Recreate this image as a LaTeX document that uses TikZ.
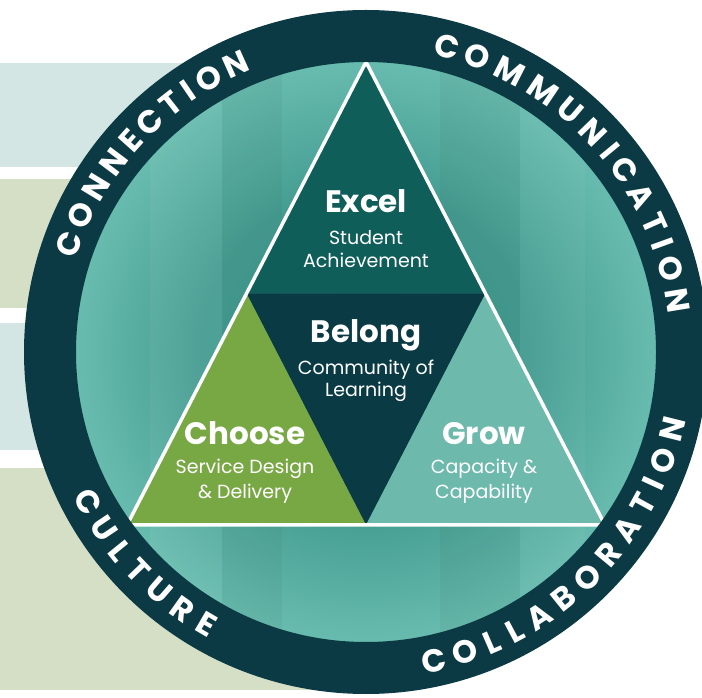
\documentclass[tikz,border=0pt]{standalone}
\usepackage{fontspec}
\setmainfont{Poppins}
\usetikzlibrary{calc}

\definecolor{ringdark}{HTML}{0B3A44}
\definecolor{excelteal}{HTML}{0F5E5A}
\definecolor{belongdark}{HTML}{0A3A44}
\definecolor{choosegreen}{HTML}{78A843}
\definecolor{growteal}{HTML}{6DB9AC}
\definecolor{bandteal}{HTML}{D4E6E3}
\definecolor{bandgreen}{HTML}{D5DFC5}
\definecolor{tealmid}{HTML}{3F978C}
\definecolor{teallight}{HTML}{68BCAF}

\pgfdeclareradialshading{discshade}{\pgfpoint{0bp}{0bp}}{color(0bp)=(tealmid); color(14bp)=(tealmid!85!teallight); color(25bp)=(teallight); color(50bp)=(teallight)}

\tikzset{
  head/.style={font=\fontsize{31}{36}\selectfont\bfseries, text=white, anchor=base, inner sep=0pt},
  sub/.style={font=\fontsize{19}{23}\selectfont, text=white, anchor=base, inner sep=0pt},
  ringtxt/.style={font=\fontsize{32}{36}\selectfont\bfseries, text=white, inner sep=0pt},
}

\begin{document}
\begin{tikzpicture}[x=1pt, y=1pt]
\useasboundingbox (0,0) rectangle (702,697);

% bands behind the disc
\fill[bandteal]  (0,530) rectangle (366,634);
\fill[bandgreen] (0,389) rectangle (366,518);
\fill[bandteal]  (0,247) rectangle (366,374);
\fill[bandgreen] (0,7)   rectangle (366,229);

% disc
\coordinate (ctr) at (366,345);
\shade[shading=discshade] (ctr) circle[radius=292];
\begin{scope}
  \clip (ctr) circle[radius=292];
  \fill[white, opacity=0.05] (150,0) rectangle (222,697);
  \fill[black, opacity=0.035] (222,0) rectangle (282,697);
  \fill[black, opacity=0.035] (440,0) rectangle (520,697);
  \fill[white, opacity=0.04] (520,0) rectangle (585,697);
\end{scope}

% triangle
\coordinate (top) at (366,635);
\coordinate (lft) at (127,172);
\coordinate (rgt) at (605,172);
\coordinate (ml) at ($(top)!0.5!(lft)$);
\coordinate (mr) at ($(top)!0.5!(rgt)$);
\coordinate (mb) at ($(lft)!0.5!(rgt)$);
\fill[excelteal]   (top) -- (ml) -- (mr) -- cycle;
\fill[belongdark]  (ml) -- (mr) -- (mb) -- cycle;
\fill[choosegreen] (ml) -- (mb) -- (lft) -- cycle;
\fill[growteal]    (mr) -- (rgt) -- (mb) -- cycle;
\draw[white, line width=3.5pt] (top) -- (lft) -- (rgt) -- cycle;

% ring
\draw[ringdark, line width=52pt] (ctr) circle[radius=316];

% labels
\node[head] (excel)   at (366,484) {Excel};
\node[sub]  (excel1)  at (366,452) {Student};
\node[sub]  (excel2)  at (366,429) {Achievement};
\node[head] (belong)  at (366,354) {Belong};
\node[sub]  (belong1) at (366,322) {Community of};
\node[sub]  (belong2) at (366,300) {Learning};
\node[head] (choose)  at (245,252) {Choose};
\node[sub]  (choose1) at (245,223) {Service Design};
\node[sub]  (choose2) at (245,198) {\& Delivery};
\node[head] (grow)    at (484,252) {Grow};
\node[sub]  (grow1)   at (484,223) {Capacity \&};
\node[sub]  (grow2)   at (484,198) {Capability};

% words round the ring, letter / angle
\foreach \ch/\a [count=\i] in {C/159.97, O/154.38, N/148.68, N/143.09, E/138.09,
    C/133.2, T/128.14, I/124.3, O/119.93, N/114.23}
  \node[ringtxt, rotate=\a-90] (conn\i) at ([shift={(\a:316)}]ctr) {\ch};
\foreach \ch/\a [count=\i] in {C/75.2, O/69.34, M/62.87, M/56.02, U/49.78, N/44.04,
    I/39.52, C/35.11, A/29.43, T/24.03, I/19.91, O/15.27, N/9.3}
  \node[ringtxt, rotate=\a-90] (comm\i) at ([shift={(\a:316)}]ctr) {\ch};
\foreach \ch/\a [count=\i] in {C/208.29, U/213.92, L/219.0, T/223.78, U/229.11,
    R/234.58, E/239.61}
  \node[ringtxt, rotate=\a+90] (cult\i) at ([shift={(\a:316)}]ctr) {\ch};
\foreach \ch/\a [count=\i] in {C/282.38, O/288.23, L/293.55, L/298.08, A/303.22,
    B/308.8, O/314.54, R/320.25, A/325.79, T/331.19, I/335.31, O/339.95, N/345.92}
  \node[ringtxt, rotate=\a+90] (coll\i) at ([shift={(\a:316)}]ctr) {\ch};
\end{tikzpicture}
\end{document}
